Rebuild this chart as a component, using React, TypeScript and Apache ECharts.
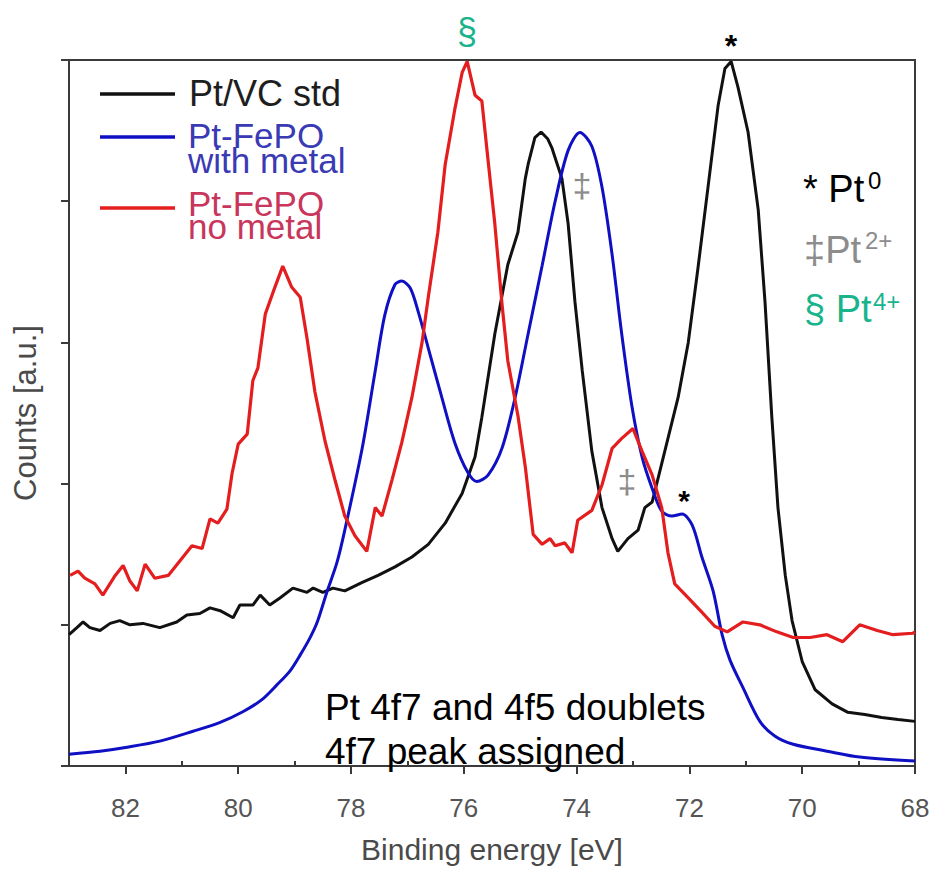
import { useEffect, useRef } from "react";
import * as echarts from "echarts";

// ---- Data (binding energy in eV, counts in a.u.) ----
const stdEnergy = [83.0, 82.86, 82.75, 82.63, 82.45, 82.27, 82.1, 81.92, 81.69, 81.39, 81.09, 80.91, 80.68, 80.5, 80.32, 80.09, 79.97, 79.74, 79.61, 79.44, 79.26, 79.03, 78.78, 78.67, 78.5, 78.32, 78.11, 77.8, 77.52, 77.22, 76.92, 76.63, 76.33, 76.03, 75.8, 75.68, 75.45, 75.22, 75.04, 74.91, 74.86, 74.74, 74.63, 74.51, 74.44, 74.26, 74.15, 74.03, 73.9, 73.73, 73.55, 73.37, 73.27, 73.09, 72.91, 72.79, 72.66, 72.56, 72.38, 72.2, 72.02, 71.85, 71.67, 71.49, 71.37, 71.26, 71.14, 70.96, 70.78, 70.66, 70.54, 70.43, 70.3, 70.18, 70.0, 69.77, 69.47, 69.19, 68.89, 68.59, 68.3, 68.0];
const stdCounts = [0.93, 0.98, 1.02, 0.98, 0.96, 1.01, 1.03, 1.0, 1.01, 0.98, 1.02, 1.07, 1.08, 1.12, 1.1, 1.05, 1.14, 1.14, 1.21, 1.14, 1.19, 1.26, 1.23, 1.26, 1.23, 1.26, 1.24, 1.3, 1.35, 1.41, 1.48, 1.57, 1.72, 1.93, 2.19, 2.47, 3.06, 3.55, 3.78, 4.16, 4.26, 4.45, 4.49, 4.44, 4.38, 4.16, 3.84, 3.29, 2.8, 2.23, 1.83, 1.61, 1.52, 1.61, 1.67, 1.83, 1.87, 2.03, 2.32, 2.61, 3.0, 3.52, 4.1, 4.68, 4.94, 4.99, 4.81, 4.49, 3.94, 3.29, 2.48, 1.83, 1.35, 1.03, 0.74, 0.54, 0.44, 0.38, 0.365, 0.344, 0.33, 0.316];

const metalEnergy = [83.0, 82.45, 81.97, 81.39, 80.8, 80.32, 79.91, 79.58, 79.31, 79.08, 78.9, 78.73, 78.6, 78.43, 78.25, 78.11, 77.8, 77.57, 77.4, 77.22, 77.1, 76.95, 76.81, 76.63, 76.39, 76.16, 75.93, 75.77, 75.57, 75.32, 75.09, 74.86, 74.61, 74.38, 74.15, 73.94, 73.73, 73.55, 73.37, 73.2, 73.02, 72.84, 72.66, 72.49, 72.31, 72.13, 71.95, 71.78, 71.58, 71.42, 71.28, 71.05, 70.75, 70.48, 70.16, 69.56, 68.98, 68.0];
const metalCounts = [0.084, 0.105, 0.133, 0.176, 0.246, 0.309, 0.386, 0.47, 0.576, 0.674, 0.787, 0.906, 1.018, 1.229, 1.44, 1.671, 2.254, 2.8, 3.195, 3.41, 3.434, 3.385, 3.22, 2.96, 2.61, 2.29, 2.08, 2.015, 2.06, 2.254, 2.61, 3.06, 3.546, 4.0, 4.36, 4.487, 4.389, 4.1, 3.62, 3.06, 2.55, 2.19, 1.966, 1.805, 1.77, 1.784, 1.706, 1.482, 1.24, 0.93, 0.75, 0.555, 0.316, 0.211, 0.154, 0.105, 0.063, 0.035];

const noMetalEnergy = [82.98, 82.84, 82.72, 82.54, 82.4, 82.18, 82.04, 81.92, 81.79, 81.65, 81.48, 81.24, 81.0, 80.82, 80.64, 80.5, 80.36, 80.2, 80.11, 80.0, 79.84, 79.74, 79.65, 79.52, 79.35, 79.21, 79.05, 78.9, 78.78, 78.64, 78.46, 78.28, 78.11, 77.93, 77.72, 77.57, 77.45, 77.27, 77.1, 76.92, 76.74, 76.63, 76.46, 76.33, 76.16, 76.03, 75.94, 75.8, 75.68, 75.57, 75.45, 75.32, 75.22, 75.04, 74.91, 74.77, 74.61, 74.47, 74.38, 74.21, 74.08, 73.98, 73.73, 73.55, 73.37, 73.2, 73.0, 72.84, 72.66, 72.49, 72.38, 72.26, 72.02, 71.78, 71.55, 71.33, 71.05, 70.75, 70.45, 70.16, 69.86, 69.56, 69.28, 68.98, 68.67, 68.39, 68.04, 68.0];
const noMetalCounts = [1.35, 1.38, 1.33, 1.29, 1.21, 1.35, 1.42, 1.31, 1.24, 1.43, 1.33, 1.35, 1.47, 1.56, 1.54, 1.75, 1.72, 1.82, 2.07, 2.28, 2.35, 2.73, 2.82, 3.2, 3.39, 3.54, 3.39, 3.32, 3.03, 2.65, 2.3, 2.02, 1.77, 1.63, 1.52, 1.83, 1.77, 2.03, 2.29, 2.61, 3.0, 3.32, 3.78, 4.26, 4.65, 4.91, 4.99, 4.75, 4.71, 4.29, 3.84, 3.26, 2.87, 2.48, 2.12, 1.64, 1.57, 1.61, 1.56, 1.58, 1.51, 1.74, 1.81, 1.99, 2.25, 2.32, 2.39, 2.23, 2.06, 1.83, 1.51, 1.29, 1.19, 1.09, 0.99, 0.95, 1.02, 1.0, 0.95, 0.91, 0.91, 0.93, 0.88, 1.0, 0.96, 0.93, 0.94, 0.95];

const xTickLabels = [82, 80, 78, 76, 74, 72, 70, 68];
const xMinorTicks = [83, 81, 79, 77, 75, 73, 71, 69];

const seriesNames = ["Pt/VC std", "Pt-FePO with metal", "Pt-FePO no metal"];
const legendTexts = ["Pt/VC std", "Pt-FePO\nwith metal", "Pt-FePO\nno metal"];
const lineColors = ["#111111", "#0f0fc4", "#e41e1e"];

const FONT = "'Liberation Sans', Arial, Helvetica, sans-serif";

function pairs(xs: number[], ys: number[]) {
  return xs.map((x, i) => [x, ys[i]]);
}

export default function App() {
  const ref = useRef<HTMLDivElement>(null);

  useEffect(() => {
    document.body.style.margin = "0";
    if (!ref.current) return;
    const chart = echarts.init(ref.current, undefined, { renderer: "svg" });

    const txt = (
      text: string,
      x: number,
      y: number,
      fontSize: number,
      fill: string,
      extra: Record<string, unknown> = {}
    ) => ({
      type: "text",
      x,
      y,
      z: 10,
      style: {
        text,
        fill,
        fontSize,
        fontFamily: FONT,
        align: "left",
        verticalAlign: "middle",
        ...extra,
      },
    });
    const legLine = (y: number, color: string) => ({
      type: "line",
      z: 10,
      shape: { x1: 100, y1: y, x2: 175, y2: y },
      style: { stroke: color, lineWidth: 3.5 },
    });

    const axisColor = "#3a3a3a";

    chart.setOption({
      animation: false,
      backgroundColor: "#ffffff",
      grid: {
        left: 69,
        right: 20,
        top: 60,
        bottom: 97,
        show: true,
        borderColor: axisColor,
        borderWidth: 2,
        backgroundColor: "transparent",
      },
      xAxis: [
        {
          type: "value",
          min: 68,
          max: 83,
          interval: 2,
          inverse: true,
          name: "Binding energy [eV]",
          nameLocation: "middle",
          nameGap: 68,
          nameTextStyle: { fontSize: 30, color: "#4a4a4a", fontFamily: FONT },
          axisLine: { show: true, lineStyle: { color: axisColor, width: 2 } },
          axisTick: {
            show: true,
            length: 8,
            customValues: xTickLabels,
            lineStyle: { color: axisColor, width: 2 },
          },
          axisLabel: {
            customValues: xTickLabels,
            fontSize: 26,
            color: "#555555",
            fontFamily: FONT,
            margin: 29,
            formatter: (v: number) => (v === 83 ? "" : String(v)),
          },
          splitLine: { show: false },
        },
        {
          type: "value",
          min: 68,
          max: 83,
          interval: 2,
          inverse: true,
          position: "bottom",
          axisLine: { show: false },
          axisTick: {
            show: true,
            inside: true,
            length: 5,
            customValues: xMinorTicks,
            lineStyle: { color: axisColor, width: 2 },
          },
          axisLabel: { show: false },
          splitLine: { show: false },
        },
      ],
      yAxis: {
        type: "value",
        min: 0,
        max: 5,
        interval: 1,
        name: "Counts [a.u.]",
        nameLocation: "middle",
        nameGap: 28,
        nameTextStyle: { fontSize: 31, color: "#4a4a4a", fontFamily: FONT },
        axisLine: { show: true, lineStyle: { color: axisColor, width: 2 } },
        axisTick: { show: true, length: 8, lineStyle: { color: axisColor, width: 2 } },
        axisLabel: { show: false },
        splitLine: { show: false },
      },
      series: [
        {
          name: seriesNames[0],
          type: "line",
          showSymbol: false,
          symbol: "none",
          data: pairs(stdEnergy, stdCounts),
          lineStyle: { color: lineColors[0], width: 3 },
          itemStyle: { color: lineColors[0] },
        },
        {
          name: seriesNames[1],
          type: "line",
          showSymbol: false,
          symbol: "none",
          smooth: 0.3,
          data: pairs(metalEnergy, metalCounts),
          lineStyle: { color: lineColors[1], width: 3 },
          itemStyle: { color: lineColors[1] },
        },
        {
          name: seriesNames[2],
          type: "line",
          showSymbol: false,
          symbol: "none",
          data: pairs(noMetalEnergy, noMetalCounts),
          lineStyle: { color: lineColors[2], width: 3.2 },
          itemStyle: { color: lineColors[2] },
        },
      ],
      graphic: [
        // legend
        legLine(94, lineColors[0]),
        legLine(137, lineColors[1]),
        legLine(208, lineColors[2]),
        txt(legendTexts[0], 189, 93, 36, "#1e1e1e"),
        txt(legendTexts[1], 188, 148, 35, "#3a3ab4", { lineHeight: 25 }),
        txt(legendTexts[2], 188, 215, 35, "#c8365c", { lineHeight: 23 }),
        // oxidation state key
        txt("* Pt", 803, 189, 38, "#000000"),
        txt("0", 868, 180, 24, "#000000"),
        txt("\u2021Pt", 804, 250, 38, "#8c8c8c"),
        txt("2+", 865, 240, 24, "#8c8c8c"),
        txt("\u00a7 Pt", 804, 309, 38, "#19b48c"),
        txt("4+", 873, 301, 24, "#19b48c"),
        // peak markers
        txt("\u00a7", 467, 31, 36, "#19b48c", { align: "center" }),
        txt("*", 731, 46, 32, "#000000", { align: "center", fontWeight: "bold" }),
        txt("\u2021", 582, 185, 34, "#8c8c8c", { align: "center" }),
        txt("\u2021", 627, 481, 34, "#8c8c8c", { align: "center" }),
        txt("*", 684, 500, 30, "#000000", { align: "center", fontWeight: "bold" }),
        // note
        txt("Pt 4f7 and 4f5 doublets", 325, 707, 37, "#000000"),
        txt("4f7 peak assigned", 325, 751, 37, "#000000"),
      ],
    });

    return () => chart.dispose();
  }, []);

  return <div ref={ref} style={{ width: 935, height: 869 }} />;
}
